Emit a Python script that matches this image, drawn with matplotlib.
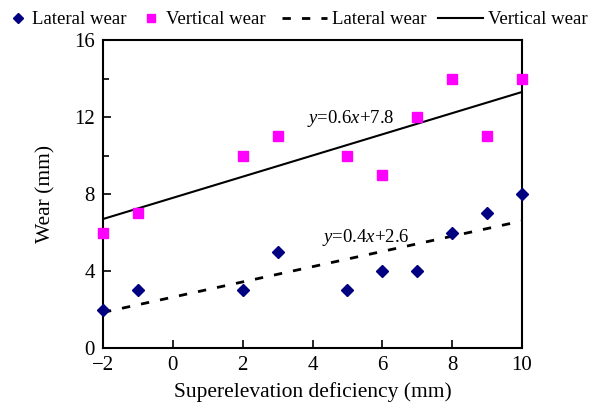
import matplotlib
matplotlib.use('Agg')
import matplotlib.pyplot as plt

plt.rcParams['font.family'] = ['Liberation Serif', 'DejaVu Serif']
plt.rcParams['mathtext.fontset'] = 'custom'
plt.rcParams['mathtext.it'] = 'Liberation Serif:italic'
plt.rcParams['mathtext.rm'] = 'Liberation Serif'

# data
deficiency = [-2, -1, 2, 3, 5, 6, 7, 8, 9, 10]
lateral = [2, 3, 3, 5, 3, 4, 4, 6, 7, 8]
vertical = [6, 7, 10, 11, 10, 9, 12, 14, 11, 14]

fitX = [-2, 10]
lateralFit = [1.85, 6.6]
verticalFit = [6.7, 13.3]

xTicks = [-2, 0, 2, 4, 6, 8, 10]
yTicks = [0, 4, 8, 12, 16]
yMinor = [2, 6, 10, 14]

fig = plt.figure(figsize=(5.93, 4.12), dpi=100)
ax = fig.add_axes([103/593, 1-348/412, (522-103)/593, (348-40)/412])

latPts, = ax.plot(deficiency, lateral, linestyle='none', marker='D', markersize=6,
                  color='#000080', label='Lateral wear', clip_on=False, zorder=3)
vertPts, = ax.plot(deficiency, vertical, linestyle='none', marker='s', markersize=7,
                   color='#FF00FF', label='Vertical wear', clip_on=False, zorder=3)
latLine, = ax.plot(fitX, lateralFit, linestyle=(0, (3, 4)), linewidth=2, color='black',
                   label='Lateral wear')
vertLine, = ax.plot(fitX, verticalFit, linestyle='-', linewidth=1.5, color='black',
                    label='Vertical wear')

ax.text(3.85, 11.9, '$y$=0.6$x$+7.8', fontsize=13.5, va='center', ha='left')
ax.text(4.27, 5.75, '$y$=0.4$x$+2.6', fontsize=13.5, va='center', ha='left')

ax.set_xlim(-2, 10)
ax.set_ylim(0, 16)
ax.set_xticks(xTicks)
ax.set_yticks(yTicks)
ax.set_yticks(yMinor, minor=True)
ax.tick_params(which='both', direction='in', labelsize=15, width=1.2)
ax.tick_params(which='major', length=6, pad=6)
ax.tick_params(which='minor', length=4)
for s in ax.spines.values():
    s.set_linewidth(1.5)

ax.set_xlabel('Superelevation deficiency (mm)', fontsize=15.5, labelpad=5)
ax.set_ylabel('Wear (mm)', fontsize=15.5, labelpad=13)

# legend across the top: markers first, then the fitted lines
legPts = fig.legend([latPts, vertPts], ['Lateral wear', 'Vertical wear'],
                    loc='upper left', bbox_to_anchor=(8.6/593, 1 - 11/412), ncol=2,
                    frameon=False, fontsize=13.5, handlelength=1.0,
                    handletextpad=0.25, columnspacing=0.83, borderpad=0,
                    borderaxespad=0, markerscale=0.9)
legLines = fig.legend([latLine, vertLine], ['Lateral wear', 'Vertical wear'],
                      loc='upper left', bbox_to_anchor=(282/593, 1 - 11/412), ncol=2,
                      frameon=False, fontsize=13.5, handlelength=2.4,
                      handletextpad=0.25, columnspacing=0.65, borderpad=0,
                      borderaxespad=0)

fig.savefig('out.png', dpi=100)
